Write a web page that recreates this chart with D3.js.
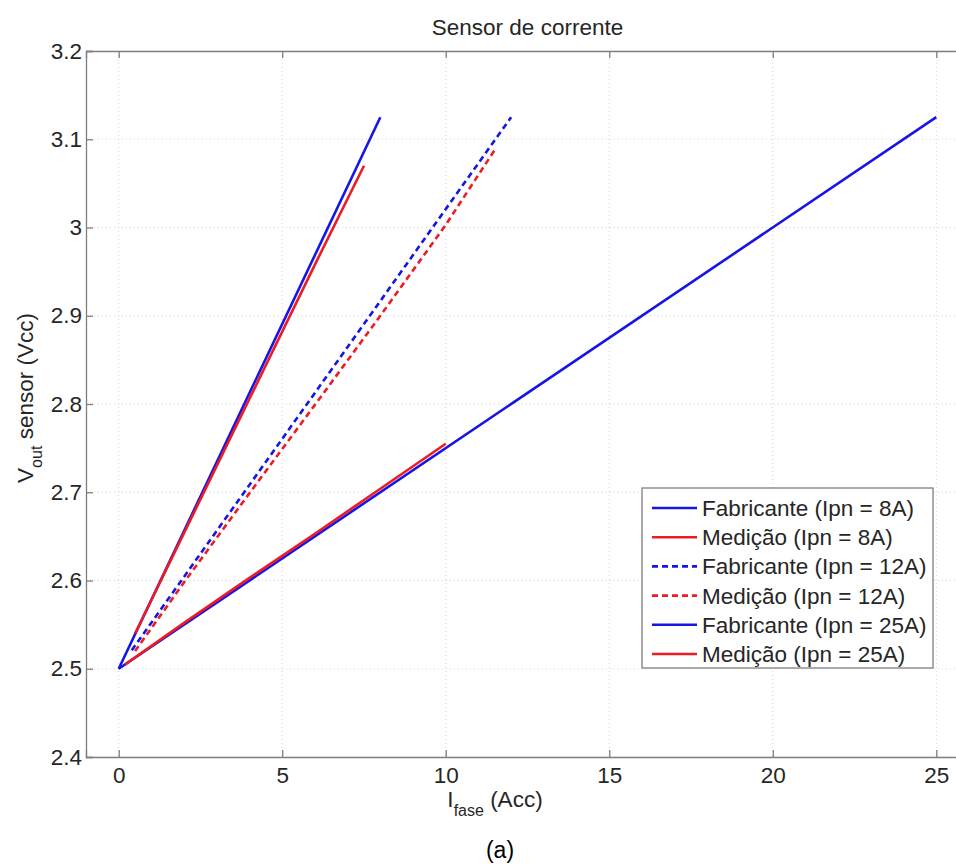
<!DOCTYPE html>
<html>
<head>
<meta charset="utf-8">
<script src="https://cdn.jsdelivr.net/npm/d3@7"></script>
<style>
  html, body { margin: 0; padding: 0; background: #fff; }
  svg { display: block; font-family: "Liberation Sans", Arial, Helvetica, sans-serif; }
</style>
</head>
<body>
<svg id="chart" width="956" height="864"></svg>
<script>
// ---- data ----
const xTicks = [0, 5, 10, 15, 20, 25];
const yTicks = [2.4, 2.5, 2.6, 2.7, 2.8, 2.9, 3.0, 3.1, 3.2];
const yTickLabels = ["2.4", "2.5", "2.6", "2.7", "2.8", "2.9", "3", "3.1", "3.2"];

const fab8  = [[0, 2.5], [8, 3.125]];
const med8  = [[0.5, 2.54], [2, 2.654], [4, 2.806], [6, 2.958], [7.5, 3.07]];
const fab12 = [[0.4, 2.521], [12, 3.125]];
const med12 = [[0.5, 2.52], [2, 2.598], [4, 2.699], [6, 2.799], [8, 2.9], [10, 3.003], [11.5, 3.088]];
const fab25 = [[0, 2.5], [25, 3.125]];
const med25 = [[0.2, 2.505], [2, 2.552], [4, 2.603], [6, 2.653], [8, 2.704], [10, 2.755]];

const seriesNames = [
  "Fabricante (Ipn = 8A)", "Medição (Ipn = 8A)",
  "Fabricante (Ipn = 12A)", "Medição (Ipn = 12A)",
  "Fabricante (Ipn = 25A)", "Medição (Ipn = 25A)"
];
const seriesData = [fab8, med8, fab12, med12, fab25, med25];

// ---- styles ----
const BLUE = "#1515e6", RED = "#ec1c24";
const styles = [
  {c: BLUE, d: null}, {c: RED, d: null},
  {c: BLUE, d: "6,4"}, {c: RED, d: "6,4"},
  {c: BLUE, d: null}, {c: RED, d: null}
];

const svg = d3.select("#chart");
const L = 86, R = 969, T = 51, B = 757;
const x = d3.scaleLinear().domain([-1, 26]).range([L, R]);
const y = d3.scaleLinear().domain([2.4, 3.2]).range([B, T]);

const axisColor = "#7f7f7f";
const textColor = "#262626";
const FS = "22.5px";

svg.append("rect").attr("x", L).attr("y", T).attr("width", R - L).attr("height", B - T).attr("fill", "#fff");

// grid
const grid = svg.append("g");
grid.selectAll(".gx").data(xTicks).enter().append("line")
  .attr("x1", d => x(d)).attr("x2", d => x(d)).attr("y1", T).attr("y2", B)
  .attr("stroke", "#d4d4d4").attr("stroke-width", 1).attr("stroke-dasharray", "1,3");
grid.selectAll(".gy").data(yTicks).enter().append("line")
  .attr("y1", d => y(d)).attr("y2", d => y(d)).attr("x1", L).attr("x2", R)
  .attr("stroke", "#d4d4d4").attr("stroke-width", 1).attr("stroke-dasharray", "1,3");

// axes
const xAxisB = d3.axisBottom(x).tickValues(xTicks).tickSize(-7).tickPadding(10).tickFormat(d3.format("d"));
const xAxisT = d3.axisTop(x).tickValues(xTicks).tickSize(-7).tickFormat("");
const yAxisL = d3.axisLeft(y).tickValues(yTicks).tickSize(-7).tickPadding(4)
  .tickFormat((d, i) => yTickLabels[i]);

function styleAxis(g) {
  g.select(".domain").attr("stroke", axisColor).attr("stroke-width", 1.3);
  g.selectAll(".tick line").attr("stroke", axisColor).attr("stroke-width", 1.3);
  g.selectAll(".tick text").attr("fill", textColor).attr("font-size", FS)
    .attr("font-family", "'Liberation Sans', Arial, sans-serif");
}
svg.append("g").attr("transform", `translate(0,${B})`).call(xAxisB).call(styleAxis);
svg.append("g").attr("transform", `translate(0,${T})`).call(xAxisT).call(styleAxis);
svg.append("g").attr("transform", `translate(${L},0)`).call(yAxisL).call(styleAxis);

// lines
const line = d3.line().x(d => x(d[0])).y(d => y(d[1]));
const order = [4, 5, 0, 1, 2, 3];
order.forEach(i => {
  svg.append("path").datum(seriesData[i])
    .attr("d", line)
    .attr("fill", "none")
    .attr("stroke", styles[i].c)
    .attr("stroke-width", 2.6)
    .attr("stroke-dasharray", styles[i].d);
});

// title
svg.append("text").attr("x", (L + R) / 2).attr("y", 35).attr("text-anchor", "middle")
  .attr("font-size", FS).attr("fill", textColor).text("Sensor de corrente");

// x label
const xl = svg.append("text").attr("x", 495).attr("y", 807).attr("text-anchor", "middle")
  .attr("font-size", FS).attr("fill", textColor);
xl.append("tspan").text("I");
xl.append("tspan").attr("dy", 9).attr("font-size", "16px").text("fase");
xl.append("tspan").attr("dy", -9).text(" (Acc)");

// y label
const yl = svg.append("text").attr("transform", "translate(33,398) rotate(-90)")
  .attr("text-anchor", "middle").attr("font-size", FS).attr("fill", textColor);
yl.append("tspan").text("V");
yl.append("tspan").attr("dy", 9).attr("font-size", "16px").text("out");
yl.append("tspan").attr("dy", -9).text(" sensor (Vcc)");

// (a)
svg.append("text").attr("x", 500).attr("y", 858).attr("text-anchor", "middle")
  .attr("font-size", "23px").attr("fill", "#000").text("(a)");

// legend
const lg = svg.append("g");
const LX = 642, LY = 488, LW = 291, LH = 180, rowH = 29.2;
lg.append("rect").attr("x", LX).attr("y", LY).attr("width", LW).attr("height", LH)
  .attr("fill", "#fff").attr("stroke", axisColor).attr("stroke-width", 1.3);
seriesNames.forEach((name, i) => {
  const cy = LY + 20 + i * rowH;
  lg.append("line").attr("x1", LX + 10).attr("x2", LX + 55).attr("y1", cy).attr("y2", cy)
    .attr("stroke", styles[i].c).attr("stroke-width", 2.6).attr("stroke-dasharray", styles[i].d);
  lg.append("text").attr("x", LX + 60).attr("y", cy + 8).attr("font-size", FS)
    .attr("fill", textColor).text(name);
});
</script>
</body>
</html>
